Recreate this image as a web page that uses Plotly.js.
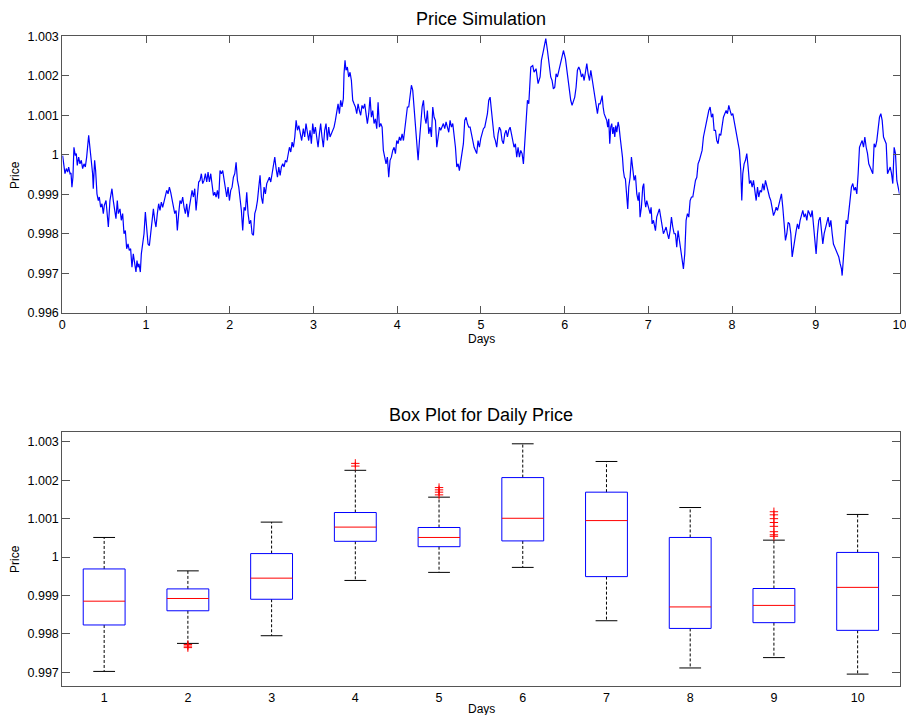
<!DOCTYPE html>
<html>
<head>
<meta charset="utf-8">
<script src="https://cdn.plot.ly/plotly-3.0.1.min.js"></script>
<style>html,body{margin:0;padding:0;background:#fff;}#chart{width:906px;height:715px;}</style>
</head>
<body>
<div id="chart"></div>
<script>
// ---- Price simulation ----
const simDays = [
0.004,0.020,0.032,0.048,0.064,0.076,0.092,0.104,0.115,0.127,0.139,0.155,0.167,0.179,0.195,0.211,0.227,0.243,0.259,0.275,0.291,0.315,0.331,0.346,0.362,0.370,0.386,0.398,0.414,0.430,0.442,0.458,0.474,0.490,0.502,0.522,0.538,0.550,0.569,0.593,0.609,0.625,0.641,0.657,0.669,0.689,0.705,0.721,0.737,0.753,0.769,0.785,0.800,0.816,0.832,0.848,0.864,0.880,0.892,0.904,0.916,0.932,0.944,0.960,0.976,0.992,
1.008,1.024,1.040,1.056,1.072,1.088,1.104,1.119,1.135,1.151,1.167,1.183,1.199,1.215,1.231,1.247,1.263,1.279,1.295,1.311,1.327,1.343,1.359,1.374,1.390,1.406,1.422,1.438,1.454,1.470,1.486,1.502,1.518,1.534,1.550,1.566,1.582,1.598,1.613,1.629,1.645,1.661,1.677,1.693,1.709,1.725,1.741,1.757,1.773,1.789,1.805,1.821,1.837,1.853,1.868,1.884,1.900,1.916,1.932,1.948,1.964,1.980,1.996,
2.012,2.028,2.044,2.060,2.076,2.092,2.108,2.123,2.139,2.155,2.171,2.187,2.203,2.219,2.235,2.251,2.267,2.283,2.299,2.315,2.331,2.347,2.362,2.378,2.394,2.410,2.426,2.442,2.458,2.474,2.490,2.506,2.522,2.538,2.554,2.570,2.586,2.602,2.617,2.633,2.649,2.665,2.681,2.697,2.713,2.729,2.745,2.761,2.777,2.793,2.809,2.825,
2.840,2.859,2.879,2.895,2.911,2.927,2.943,2.959,2.975,2.991,3.007,3.023,3.039,3.055,3.071,3.086,3.102,3.118,3.134,3.150,3.166,3.182,3.198,3.214,3.230,3.246,3.262,3.278,3.294,3.310,3.325,3.341,3.357,3.365,3.377,3.389,3.405,3.421,3.437,3.453,3.469,3.485,3.501,3.517,3.533,3.549,3.564,3.580,3.596,3.612,3.628,3.644,3.660,3.676,3.692,3.708,3.724,3.740,3.756,3.772,3.788,3.804,3.820,3.835,3.851,3.867,3.883,3.899,3.915,3.931,3.947,3.963,3.979,3.995,
4.011,4.027,4.043,4.059,4.075,4.091,4.106,4.122,4.138,4.154,4.170,4.186,4.202,4.218,4.234,4.250,4.266,4.282,4.298,4.314,4.329,4.345,4.361,4.377,4.393,4.409,4.425,4.441,4.457,4.473,4.489,4.505,4.520,4.536,4.552,4.568,4.584,4.600,4.616,4.632,4.648,4.664,4.680,4.696,4.712,4.728,4.743,4.759,4.775,4.791,4.807,4.823,4.839,4.855,4.871,4.887,4.903,4.919,4.935,4.950,4.966,4.982,4.998,
5.014,5.030,5.046,5.062,5.078,5.094,5.110,5.126,5.142,5.158,5.173,5.189,5.205,5.221,5.237,5.253,5.269,5.285,5.301,5.317,5.333,5.349,5.365,5.381,5.396,5.412,5.428,5.444,5.460,5.476,5.492,5.508,5.524,5.540,5.556,5.572,5.596,5.619,5.635,5.659,5.683,5.707,5.723,5.747,5.775,5.795,5.811,5.834,5.850,5.866,5.882,5.898,5.914,5.930,5.946,5.970,5.986,
6.010,6.026,6.042,6.058,6.073,6.089,6.105,6.121,6.137,6.153,6.169,6.185,6.201,6.217,6.233,6.249,6.265,6.281,6.297,6.313,6.328,6.344,6.360,6.376,6.392,6.408,
6.424,6.436,6.448,6.460,6.472,6.488,6.503,6.515,6.527,6.539,6.551,6.563,6.575,6.587,6.599,6.611,6.623,6.639,6.651,6.663,6.679,6.691,6.702,6.714,6.726,6.738,6.754,6.766,6.782,6.798,6.814,6.830,6.846,6.862,6.878,6.890,6.901,6.917,6.933,6.945,6.957,6.969,6.981,6.993,
7.005,7.021,7.033,7.045,7.061,7.073,7.085,7.100,7.116,7.132,7.148,7.164,7.180,7.196,7.212,7.228,7.244,7.260,7.276,7.292,7.308,7.324,7.339,7.355,7.371,7.387,7.403,7.419,7.435,7.451,7.467,7.483,7.499,7.515,7.531,7.547,7.563,7.579,7.594,7.610,7.626,7.642,7.658,7.674,7.690,7.706,7.722,7.738,7.754,7.770,7.786,7.802,7.817,7.833,7.849,7.865,7.881,7.897,7.913,7.929,7.945,7.961,7.977,7.993,
8.009,8.025,8.041,8.057,8.072,8.088,8.104,8.116,8.128,8.144,8.160,8.176,8.192,8.208,8.224,8.240,8.256,8.272,8.288,8.304,8.319,8.335,8.351,8.367,8.383,8.399,8.415,8.431,8.447,8.463,8.479,8.495,8.511,8.527,8.543,8.559,8.574,8.590,8.606,8.622,8.638,8.654,8.670,8.686,8.702,8.718,8.734,8.750,8.766,8.781,8.797,8.813,8.829,8.845,8.861,8.877,8.893,8.909,8.925,8.941,8.957,8.973,8.989,
9.004,9.020,9.036,9.052,9.068,9.084,9.100,9.116,9.132,9.148,9.164,9.180,9.196,9.211,9.227,9.243,9.259,9.275,9.291,9.307,9.315,9.331,9.347,9.363,9.379,9.394,9.410,9.426,9.442,9.458,9.474,9.490,9.506,9.522,9.538,9.554,9.570,9.586,9.602,9.618,9.633,9.649,9.665,9.681,9.697,9.713,9.729,9.745,9.761,9.777,9.793,9.809,9.825,9.841,9.857,9.873,9.889,9.905,9.920,9.936,9.952,9.968,9.984,10.000
];
const simPrice = [
0.99998,0.99969,0.99952,0.99965,0.99956,0.99969,0.99952,0.99954,0.99918,0.99943,1.00019,0.99998,1.00003,0.99973,0.99994,0.99977,0.99986,0.99965,0.99977,0.99969,0.99994,1.00049,1.00019,0.99994,0.99952,0.99914,0.99986,0.99960,0.99901,0.99884,0.99893,0.99867,0.99876,0.99851,0.99872,0.99884,0.99842,0.99817,0.99884,0.99914,0.99884,0.99863,0.99838,0.99884,0.99851,0.99863,0.99834,0.99851,0.99800,0.99808,0.99762,0.99774,0.99758,0.99762,0.99715,0.99749,0.99724,0.99703,0.99732,0.99715,0.99724,0.99703,0.99749,0.99783,0.99800,0.99855,
0.99800,0.99774,0.99770,0.99808,0.99834,0.99863,0.99834,0.99817,0.99851,0.99876,0.99859,0.99880,0.99867,0.99884,0.99893,0.99910,0.99901,0.99918,0.99905,0.99889,0.99876,0.99851,0.99859,0.99808,0.99851,0.99884,0.99876,0.99893,0.99867,0.99851,0.99876,0.99842,0.99867,0.99889,0.99910,0.99893,0.99914,0.99859,0.99901,0.99931,0.99935,0.99952,0.99927,0.99935,0.99952,0.99931,0.99956,0.99931,0.99952,0.99918,0.99897,0.99905,0.99893,0.99910,0.99889,0.99960,0.99952,0.99960,0.99935,0.99914,0.99893,0.99918,0.99884,
0.99910,0.99918,0.99943,0.99952,0.99981,0.99935,0.99918,0.99893,0.99859,0.99808,0.99867,0.99859,0.99905,0.99851,0.99825,0.99834,0.99800,0.99796,0.99851,0.99863,0.99884,0.99918,0.99948,0.99893,0.99876,0.99918,0.99901,0.99927,0.99935,0.99943,0.99931,0.99956,0.99969,0.99994,0.99965,0.99943,0.99969,0.99948,0.99969,0.99977,0.99969,0.99986,0.99981,0.99998,1.00019,1.00007,1.00032,1.00019,1.00045,1.00087,1.00062,1.00074,
1.00053,1.00036,1.00066,1.00045,1.00079,1.00057,1.00036,1.00062,1.00028,1.00079,1.00053,1.00070,1.00036,1.00019,1.00053,1.00079,1.00045,1.00019,1.00062,1.00079,1.00036,1.00070,1.00045,1.00053,1.00062,1.00070,1.00087,1.00112,1.00129,1.00104,1.00138,1.00121,1.00142,1.00205,1.00239,1.00214,1.00222,1.00197,1.00209,1.00188,1.00138,1.00129,1.00121,1.00104,1.00129,1.00112,1.00100,1.00125,1.00117,1.00129,1.00095,1.00079,1.00104,1.00146,1.00095,1.00112,1.00079,1.00091,1.00066,1.00133,1.00070,1.00079,1.00070,1.00011,0.99994,0.99977,0.99994,0.99943,0.99986,0.99994,1.00011,1.00019,1.00003,1.00036,
1.00028,1.00045,1.00036,1.00053,1.00036,1.00070,1.00095,1.00121,1.00121,1.00150,1.00176,1.00163,1.00121,1.00079,1.00028,0.99986,1.00036,1.00079,1.00121,1.00138,1.00095,1.00079,1.00112,1.00053,1.00070,1.00045,1.00121,1.00095,1.00087,1.00019,1.00053,1.00070,1.00062,1.00070,1.00079,1.00066,1.00083,1.00070,1.00057,1.00087,1.00070,1.00079,1.00053,1.00019,0.99969,0.99977,0.99960,0.99986,1.00003,1.00028,1.00087,1.00095,1.00079,1.00070,1.00070,1.00053,1.00028,1.00019,1.00011,1.00003,1.00036,1.00019,1.00041,
1.00053,1.00066,1.00070,1.00087,1.00104,1.00138,1.00146,1.00112,1.00079,1.00045,1.00036,1.00019,1.00053,1.00070,1.00062,1.00036,1.00028,1.00053,1.00062,1.00045,1.00062,1.00070,1.00053,1.00036,1.00019,1.00028,0.99994,1.00019,0.99994,1.00011,1.00003,0.99977,1.00036,1.00104,1.00138,1.00129,1.00222,1.00226,1.00209,1.00218,1.00180,1.00197,1.00239,1.00264,1.00294,1.00264,1.00239,1.00197,1.00188,1.00167,1.00171,1.00205,1.00197,1.00214,1.00231,1.00256,1.00264,
1.00243,1.00214,1.00188,1.00155,1.00138,1.00125,1.00138,1.00146,1.00171,1.00214,1.00222,1.00214,1.00197,1.00205,1.00188,1.00209,1.00231,1.00205,1.00188,1.00214,1.00193,1.00171,1.00155,1.00121,1.00104,1.00129,
1.00129,1.00138,1.00150,1.00121,1.00104,1.00095,1.00087,1.00070,1.00091,1.00028,1.00070,1.00079,1.00053,1.00070,1.00045,1.00074,1.00057,1.00083,1.00070,1.00045,1.00019,0.99994,0.99960,0.99943,0.99939,0.99910,0.99863,0.99918,0.99943,0.99994,0.99960,0.99935,0.99948,0.99901,0.99884,0.99905,0.99842,0.99867,0.99918,0.99927,0.99884,0.99867,0.99884,0.99876,
0.99863,0.99851,0.99867,0.99825,0.99834,0.99817,0.99808,0.99842,0.99851,0.99863,0.99842,0.99825,0.99800,0.99808,0.99817,0.99800,0.99787,0.99808,0.99842,0.99817,0.99800,0.99800,0.99766,0.99808,0.99783,0.99758,0.99741,0.99711,0.99749,0.99834,0.99851,0.99842,0.99884,0.99893,0.99893,0.99918,0.99935,0.99943,0.99977,0.99986,1.00003,1.00011,1.00045,1.00062,1.00079,1.00104,1.00112,1.00121,1.00095,1.00104,1.00062,1.00062,1.00036,1.00028,1.00053,1.00049,1.00070,1.00095,1.00104,1.00112,1.00104,1.00125,1.00112,1.00100,
1.00104,1.00087,1.00062,1.00049,1.00036,1.00011,0.99960,0.99884,0.99952,0.99977,0.99986,1.00003,0.99969,0.99927,0.99935,0.99918,0.99935,0.99901,0.99884,0.99918,0.99893,0.99910,0.99905,0.99927,0.99910,0.99935,0.99918,0.99901,0.99893,0.99884,0.99859,0.99846,0.99855,0.99867,0.99859,0.99876,0.99884,0.99901,0.99867,0.99834,0.99783,0.99800,0.99829,0.99825,0.99800,0.99741,0.99766,0.99783,0.99808,0.99825,0.99812,0.99834,0.99851,0.99859,0.99842,0.99851,0.99834,0.99859,0.99851,0.99842,0.99859,0.99817,0.99783,
0.99749,0.99800,0.99834,0.99842,0.99800,0.99774,0.99800,0.99817,0.99834,0.99842,0.99817,0.99834,0.99800,0.99774,0.99766,0.99758,0.99749,0.99741,0.99724,0.99711,0.99694,0.99749,0.99800,0.99834,0.99825,0.99851,0.99884,0.99918,0.99927,0.99910,0.99918,0.99901,0.99952,1.00019,1.00028,1.00036,1.00019,1.00045,1.00019,1.00003,0.99977,0.99969,0.99960,0.99952,1.00028,1.00019,1.00036,1.00070,1.00095,1.00104,1.00087,1.00045,1.00036,1.00028,0.99952,0.99960,0.99969,0.99952,0.99927,1.00019,1.00003,0.99935,0.99918,0.99901
];

// ---- Box plot for daily price ----
const boxDays    = [1, 2, 3, 4, 5, 6, 7, 8, 9, 10];
const boxLowWh   = [0.99702, 0.99775, 0.99795, 0.99939, 0.99960, 0.99973, 0.99834, 0.99711, 0.99738, 0.99695];
const boxQ1      = [0.99823, 0.99860, 0.99890, 1.00041, 1.00027, 1.00042, 0.99949, 0.99814, 0.99829, 0.99809];
const boxMedian  = [0.99885, 0.99892, 0.99945, 1.00078, 1.00051, 1.00101, 1.00095, 0.99870, 0.99874, 0.99921];
const boxQ3      = [0.99969, 0.99917, 1.00009, 1.00116, 1.00077, 1.00207, 1.00169, 1.00051, 0.99918, 1.00012];
const boxUpWh    = [1.00051, 0.99964, 1.00091, 1.00226, 1.00156, 1.00295, 1.00249, 1.00129, 1.00044, 1.00111];
const outlierDay   = [2, 2, 2, 4, 4, 5, 5, 5, 5, 9, 9, 9, 9, 9, 9, 9, 9];
const outlierPrice = [0.99772, 0.99768, 0.99764, 1.00244, 1.00237, 1.00181, 1.00175, 1.00169, 1.00162,
                      1.00118, 1.00110, 1.00100, 1.00090, 1.00080, 1.00066, 1.00058, 1.00054];

// tick labels
const topXTicks = [0,1,2,3,4,5,6,7,8,9,10];
const topYTickVals = [0.996,0.997,0.998,0.999,1.000,1.001,1.002,1.003];
const topYTickText = ['0.996','0.997','0.998','0.999','1','1.001','1.002','1.003'];
const botYTickVals = [0.997,0.998,0.999,1.000,1.001,1.002,1.003];
const botYTickText = ['0.997','0.998','0.999','1','1.001','1.002','1.003'];
const botXTickText = ['1','2','3','4','5','6','7','8','9','10'];

// ---- build box-plot line traces from the arrays ----
const HALF = 0.25, CAP = 0.13;
const bx = [], by = [], mx = [], my = [], wx = [], wy = [], cx = [], cy = [];
boxDays.forEach((d, i) => {
  bx.push(d-HALF, d+HALF, d+HALF, d-HALF, d-HALF, null);
  by.push(boxQ1[i], boxQ1[i], boxQ3[i], boxQ3[i], boxQ1[i], null);
  mx.push(d-HALF, d+HALF, null);
  my.push(boxMedian[i], boxMedian[i], null);
  wx.push(d, d, null, d, d, null);
  wy.push(boxQ3[i], boxUpWh[i], null, boxQ1[i], boxLowWh[i], null);
  cx.push(d-CAP, d+CAP, null, d-CAP, d+CAP, null);
  cy.push(boxUpWh[i], boxUpWh[i], null, boxLowWh[i], boxLowWh[i], null);
});

const traces = [
  {x: simDays, y: simPrice, type: 'scatter', mode: 'lines', xaxis: 'x', yaxis: 'y',
   line: {color: '#0000ff', width: 1.2}},
  {x: wx, y: wy, type: 'scatter', mode: 'lines', xaxis: 'x2', yaxis: 'y2',
   line: {color: '#000000', width: 1, dash: '3px,2px'}},
  {x: cx, y: cy, type: 'scatter', mode: 'lines', xaxis: 'x2', yaxis: 'y2',
   line: {color: '#000000', width: 1}},
  {x: bx, y: by, type: 'scatter', mode: 'lines', xaxis: 'x2', yaxis: 'y2',
   line: {color: '#0000ff', width: 1}},
  {x: mx, y: my, type: 'scatter', mode: 'lines', xaxis: 'x2', yaxis: 'y2',
   line: {color: '#ff0000', width: 1}},
  {x: outlierDay, y: outlierPrice, type: 'scatter', mode: 'markers', xaxis: 'x2', yaxis: 'y2',
   marker: {symbol: 'cross-thin-open', size: 6, color: '#ff0000', line: {color: '#ff0000', width: 1}}}
];

const FONT = 'Liberation Sans, Arial, Helvetica, sans-serif';
const axisBase = {
  showline: true, linecolor: '#555555', linewidth: 1, mirror: 'ticks',
  showgrid: false, zeroline: false, ticks: 'inside', tickcolor: '#555555', tickwidth: 1,
  tickfont: {family: FONT, size: 12.5, color: '#000'}, automargin: false, fixedrange: true,
  ticklabeloverflow: 'allow'
};
const XD = [62.3/906, 899.5/906];

const layout = {
  width: 906, height: 715,
  margin: {l: 0, r: 0, t: 0, b: 0, pad: 0},
  paper_bgcolor: '#ffffff', plot_bgcolor: '#ffffff',
  showlegend: false, hovermode: false,
  font: {family: FONT, color: '#000'},
  xaxis: Object.assign({}, axisBase, {
    domain: XD, anchor: 'y', range: [0, 10], tickmode: 'array', tickvals: topXTicks,
    ticktext: topXTicks.map(String), ticklen: 7
  }),
  yaxis: Object.assign({}, axisBase, {
    domain: [1-312.7/715, 1-36.3/715], anchor: 'x', range: [0.996, 1.003],
    tickmode: 'array', tickvals: topYTickVals, ticktext: topYTickText, ticklen: 7
  }),
  xaxis2: Object.assign({}, axisBase, {
    domain: XD, anchor: 'y2', range: [0.5, 10.5], tickmode: 'array', tickvals: boxDays,
    ticktext: botXTickText, ticks: '', mirror: true
  }),
  yaxis2: Object.assign({}, axisBase, {
    domain: [1-686/715, 1-432.3/715], anchor: 'x2', range: [0.99664, 1.00325],
    tickmode: 'array', tickvals: botYTickVals, ticktext: botYTickText, ticklen: 8
  }),
  annotations: [
    {text: 'Price Simulation', xref: 'paper', yref: 'paper', x: 481/906, y: 1-19.5/715,
     xanchor: 'center', yanchor: 'middle', showarrow: false, font: {family: FONT, size: 18, color: '#000'}},
    {text: 'Box Plot for Daily Price', xref: 'paper', yref: 'paper', x: 481/906, y: 1-414.5/715,
     xanchor: 'center', yanchor: 'middle', showarrow: false, font: {family: FONT, size: 18, color: '#000'}},
    {text: 'Days', xref: 'paper', yref: 'paper', x: 481/906, y: 1-339/715,
     xanchor: 'center', yanchor: 'middle', showarrow: false, font: {family: FONT, size: 12, color: '#000'}},
    {text: 'Days', xref: 'paper', yref: 'paper', x: 481/906, y: 1-709/715,
     xanchor: 'center', yanchor: 'middle', showarrow: false, font: {family: FONT, size: 12, color: '#000'}},
    {text: 'Price', xref: 'paper', yref: 'paper', x: 15/906, y: 1-175/715, textangle: -90,
     xanchor: 'center', yanchor: 'middle', showarrow: false, font: {family: FONT, size: 12, color: '#000'}},
    {text: 'Price', xref: 'paper', yref: 'paper', x: 15/906, y: 1-559/715, textangle: -90,
     xanchor: 'center', yanchor: 'middle', showarrow: false, font: {family: FONT, size: 12, color: '#000'}}
  ]
};

Plotly.newPlot('chart', traces, layout, {staticPlot: true, displayModeBar: false});
</script>
</body>
</html>
